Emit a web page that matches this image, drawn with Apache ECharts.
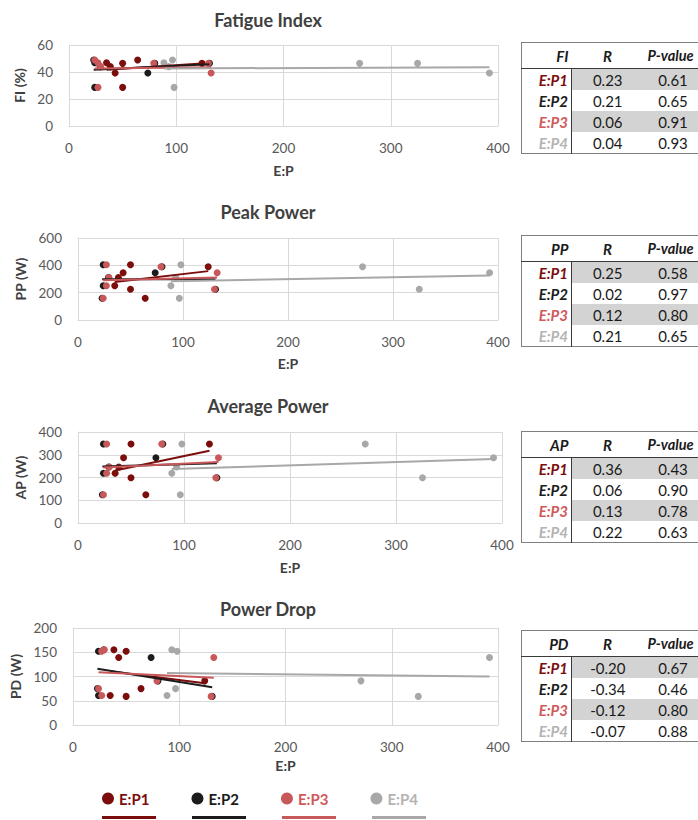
<!DOCTYPE html>
<html>
<head>
<meta charset="utf-8">
<title>E:P correlations</title>
<script src="https://cdn.jsdelivr.net/npm/echarts@6/dist/echarts.min.js"></script>
<style>
  html, body { margin: 0; padding: 0; background: #fff; }
  body { width: 698px; height: 820px; overflow: hidden; position: relative; font-family: Lato, 'Liberation Sans', sans-serif; }
  #chart { position: absolute; left: 0; top: 0; width: 698px; height: 820px; }
  .stat-table {
    position: absolute; left: 521px; width: 177px; table-layout: fixed; border-collapse: collapse;
    font-family: Lato, sans-serif; font-size: 15px; color: #1a1a1a; white-space: nowrap;
    border: 1px solid #7f7f7f; border-right: none;
  }
  .stat-table th { font-weight: bold; font-style: italic; height: 25px; padding: 0; border-bottom: 1.5px solid #3a3a3a; }
  .stat-table td { height: 21px; padding: 0; text-align: center; }
  .stat-table .lbl { width: 50px; text-align: right; padding-right: 3px; box-sizing: border-box; font-weight: bold; font-style: italic; border-right: 1.5px solid #3a3a3a; }
  .stat-table .c2 { width: 72px; }
  .stat-table .c3 { width: 55px; }
  .stat-table th.c3 { font-size: 14.5px; text-align: left; padding-left: 4px; }
  .stat-table tr.shade td.v { background: #d3d3d3; }
</style>
</head>
<body>
<div id="chart"></div>

<script>
// E:P ratio for each of the 7 participants, one array per condition
const epP1 = [38.5, 50, 35, 64, 124, 50, 43]
const epP2 = [29, 24, 24, 23, 80, 131, 73.5]
const epP3 = [29.5, 27, 27, 24, 79, 130, 132.5]
const epP4 = [93, 98, 88.5, 96.5, 271, 325, 392]

// performance measures, same participant order
const fatigueIndex = [44, 28.6, 46.9, 48.9, 46.4, 46.4, 39.3]
const peakPower = [311, 404, 250, 159, 390, 225, 346]
const averagePower = [246, 347, 219, 124, 347, 199, 287]
const powerDrop = [155, 152, 61, 75, 91, 59, 139]

const groupNames = ['E:P1', 'E:P2', 'E:P3', 'E:P4']
const panelTitles = ['Fatigue Index', 'Peak Power', 'Average Power', 'Power Drop']
const yAxisNames = ['FI (%)', 'PP (W)', 'AP (W)', 'PD (W)']
const yMaxes = [60, 600, 400, 200]
const yIntervals = [20, 200, 100, 50]
const xTicks = [0, 100, 200, 300, 400]

// table values (R and P-value per condition)
const tableHeads = ['FI', 'PP', 'AP', 'PD']
const rFI = ['0.23', '0.21', '0.06', '0.04']
const pFI = ['0.61', '0.65', '0.91', '0.93']
const rPP = ['0.25', '0.02', '0.12', '0.21']
const pPP = ['0.58', '0.97', '0.80', '0.65']
const rAP = ['0.36', '0.06', '0.13', '0.22']
const pAP = ['0.43', '0.90', '0.78', '0.63']
const rPD = ['-0.20', '-0.34', '-0.12', '-0.07']
const pPD = ['0.67', '0.46', '0.80', '0.88']

const colors = ['#7b0d0d', '#1c1c1c', '#c9585a', '#a8a8a8']
const labelColors = ['#7b0d0d', '#1c1c1c', '#d0595b', '#b3b3b3']

const epGroups = [epP1, epP2, epP3, epP4]
const measures = [fatigueIndex, peakPower, averagePower, powerDrop]

// layout of each plot area (px)
const panels = [
  { left: 69, top: 45, width: 429, height: 81, yGap: 36, xGap: 37, titleTop: 6 },
  { left: 78, top: 238, width: 420, height: 82, yGap: 45, xGap: 36, titleTop: 198 },
  { left: 78, top: 432, width: 424, height: 91, yGap: 45, xGap: 37, titleTop: 392 },
  { left: 73, top: 628, width: 425, height: 97, yGap: 42, xGap: 33, titleTop: 595 }
]

// least-squares trendline, drawn from min x to max x like Excel
const trendLine = (xs, ys) => {
  const n = xs.length
  const mx = xs.reduce((a, b) => a + b, 0) / n
  const my = ys.reduce((a, b) => a + b, 0) / n
  let sxy = 0, sxx = 0
  for (let i = 0; i < n; i++) {
    sxy += (xs[i] - mx) * (ys[i] - my)
    sxx += (xs[i] - mx) * (xs[i] - mx)
  }
  const slope = sxy / sxx
  const lo = Math.min(...xs), hi = Math.max(...xs)
  return [[lo, my + slope * (lo - mx)], [hi, my + slope * (hi - mx)]]
}

const fontFamily = 'Lato, sans-serif'
const gridColor = '#d9d9d9'

const grid = [], xAxis = [], yAxis = [], title = [], series = []

panels.forEach((p, i) => {
  grid.push({ left: p.left, top: p.top, width: p.width, height: p.height })
  title.push({
    text: panelTitles[i],
    left: 263,
    top: p.titleTop,
    textAlign: 'center',
    textStyle: { fontFamily, fontSize: 18, fontWeight: 'bold', color: '#404040' }
  })
  xAxis.push({
    gridIndex: i,
    type: 'value',
    min: xTicks[0],
    max: xTicks[xTicks.length - 1],
    interval: 100,
    name: 'E:P',
    nameLocation: 'middle',
    nameGap: p.xGap,
    nameTextStyle: { fontFamily, fontSize: 14, fontWeight: 'bold', color: '#404040' },
    axisLine: { show: true, lineStyle: { color: gridColor } },
    axisTick: { show: false },
    axisLabel: { fontFamily, fontSize: 13.5, color: '#595959', margin: 15 },
    splitLine: { show: true, lineStyle: { color: gridColor, width: 1 } }
  })
  yAxis.push({
    gridIndex: i,
    type: 'value',
    min: 0,
    max: yMaxes[i],
    interval: yIntervals[i],
    name: yAxisNames[i],
    nameLocation: 'middle',
    nameGap: p.yGap,
    nameRotate: 90,
    nameTextStyle: { fontFamily, fontSize: 14, fontWeight: 'bold', color: '#404040' },
    axisLine: { show: true, lineStyle: { color: gridColor } },
    axisTick: { show: false },
    axisLabel: { fontFamily, fontSize: 13.5, color: '#595959', margin: 16 },
    splitLine: { show: true, lineStyle: { color: gridColor, width: 1 } }
  })

  epGroups.forEach((xs, g) => {
    series.push({
      name: groupNames[g],
      type: 'scatter',
      xAxisIndex: i,
      yAxisIndex: i,
      symbolSize: 7,
      itemStyle: { color: colors[g], opacity: 1 },
      z: 2,
      data: xs.map((x, k) => [x, measures[i][k]])
    })
  })
  epGroups.forEach((xs, g) => {
    series.push({
      name: 'Linear (' + groupNames[g] + ')',
      type: 'line',
      xAxisIndex: i,
      yAxisIndex: i,
      showSymbol: false,
      silent: true,
      lineStyle: { color: colors[g], width: 2 },
      itemStyle: { color: colors[g] },
      z: 3,
      data: trendLine(xs, measures[i])
    })
  })
})

const chart = echarts.init(document.getElementById('chart'), null, { renderer: 'svg' })
chart.setOption({
  animation: false,
  backgroundColor: '#fff',
  title,
  grid,
  xAxis,
  yAxis,
  legend: [
    {
      left: 102,
      top: 791,
      padding: 0,
      icon: 'circle',
      itemWidth: 12,
      itemHeight: 12,
      itemGap: 42,
      data: groupNames.map((n, g) => ({
        name: n,
        textStyle: { color: labelColors[g] }
      })),
      textStyle: { fontFamily, fontSize: 15, fontWeight: 'bold' }
    },
    {
      left: 102,
      top: 816,
      padding: 0,
      icon: 'rect',
      itemWidth: 54,
      itemHeight: 3,
      itemGap: 31,
      formatter: () => '',
      textStyle: { fontSize: 2, lineHeight: 3 },
      data: groupNames.map(n => 'Linear (' + n + ')')
    }
  ],
  series
})

// correlation tables to the right of each panel
const tableTops = [42, 235, 431, 630]
const rCols = [rFI, rPP, rAP, rPD]
const pCols = [pFI, pPP, pAP, pPD]
tableTops.forEach((top, i) => {
  const t = document.createElement('table')
  t.className = 'stat-table'
  t.style.top = top + 'px'
  let html = '<tr><th class="lbl" style="text-align:right;padding-right:3px;border-right:none">' + tableHeads[i] +
    '</th><th class="c2">R</th><th class="c3">P-value</th></tr>'
  groupNames.forEach((n, g) => {
    html += '<tr class="' + (g % 2 === 0 ? 'shade' : '') + '"><td class="lbl" style="color:' + labelColors[g] + '">' + n +
      '</td><td class="v c2">' + rCols[i][g] + '</td><td class="v c3">' + pCols[i][g] + '</td></tr>'
  })
  t.innerHTML = html
  document.body.appendChild(t)
})
</script>
</body>
</html>
